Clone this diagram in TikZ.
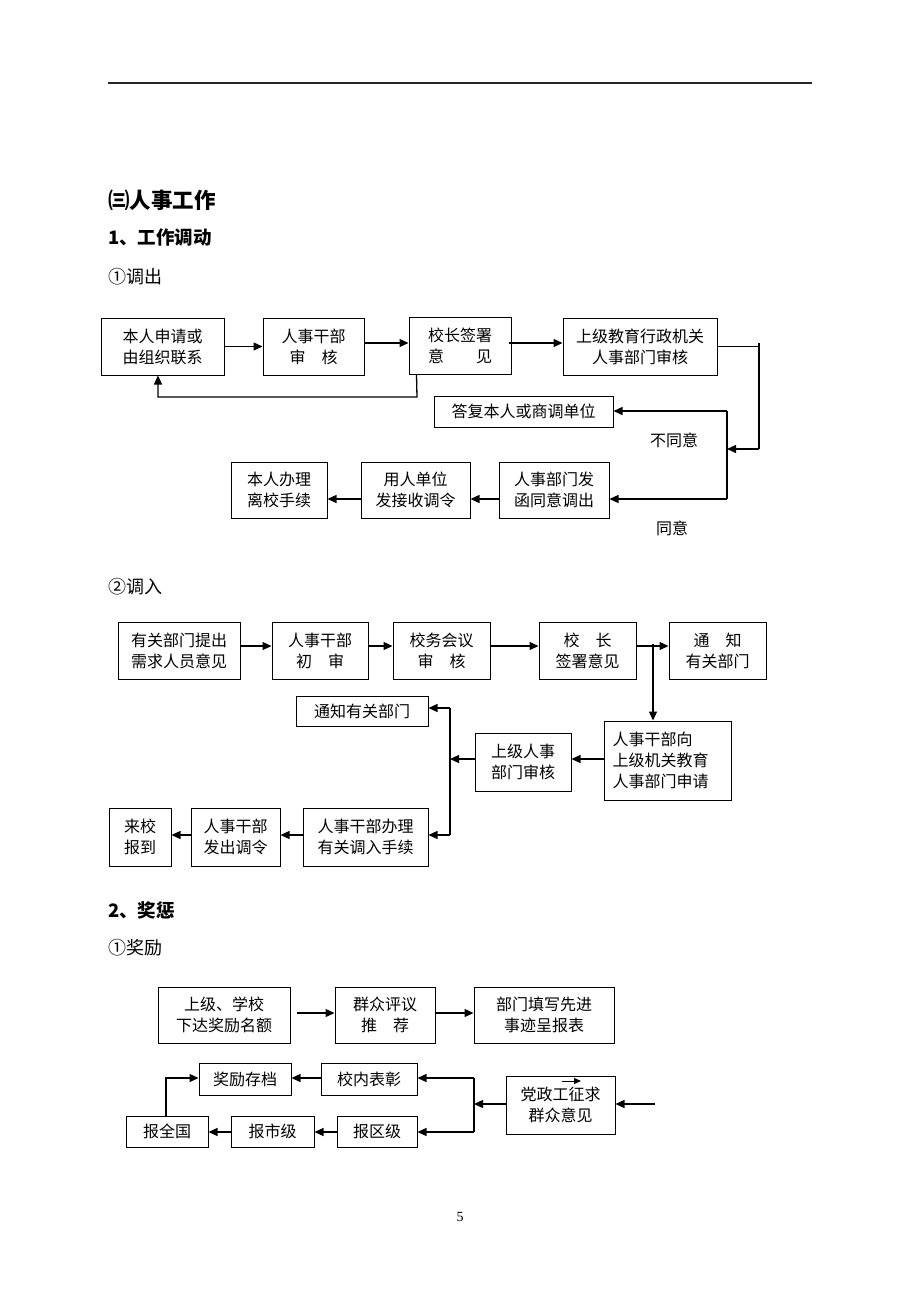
\documentclass[tikz,border=0pt]{standalone}
\usepackage{fontspec}
\setmainfont{Liberation Serif}
\newfontfamily\cjk{Noto Sans CJK SC}
\usetikzlibrary{arrows.meta}
\tikzset{
  box/.style={draw, line width=1pt, inner sep=0pt, align=center,
    font=\cjk\fontsize{16}{21}\selectfont},
  arr/.style={line width=1.3pt, -{Triangle[length=9pt,width=8pt]}},
  ln/.style={line width=1.3pt},
  lbl/.style={inner sep=0pt, font=\cjk\fontsize{16}{21}\selectfont},
  h1/.style={inner sep=0pt, anchor=west, font=\cjk\bfseries\fontsize{21.5}{24}\selectfont},
  h2/.style={inner sep=0pt, anchor=west, font=\cjk\bfseries\fontsize{18.5}{22}\selectfont},
  h3/.style={inner sep=0pt, anchor=west, font=\cjk\fontsize{18}{22}\selectfont}
}
\newcommand\bx[6]{\node[box, minimum width=#4pt-#2pt, minimum height=#5pt-#3pt] (#1) at ({(#2+#4)/2},{(#3+#5)/2}) {#6};}
\begin{document}
\begin{tikzpicture}[x=1pt,y=-1pt]
\path[use as bounding box, fill=white] (0,0) rectangle (920,1302);
% header rule
\coordinate (hl) at (108,83); \coordinate (hr) at (812,83);
\draw[line width=1.6pt, black!85] (hl) -- (hr);
% headings
\node[h1] (t1) at (108,200) {㈢人事工作};
\node[h2] (t2) at (108,238) {1、工作调动};
\node[h3] (t3) at (108,277) {①调出};
\node[h3] (t4) at (108,587) {②调入};
\node[h2] (t5) at (108,910) {2、奖惩};
\node[h3] (t6) at (108,948) {①奖励};
\node[inner sep=0pt, font=\fontsize{14}{16}\selectfont] (pg) at (460,1217) {5};

% ---------- section 1 ----------
\bx{A1}{101}{318}{224}{375}{本人申请或\\由组织联系}
\bx{A2}{263}{318}{364}{375}{人事干部\\审　核}
\bx{A3}{409}{317}{511}{374}{校长签署\\意　　见}
\bx{A4}{563}{318}{717}{375}{上级教育行政机关\\人事部门审核}
\bx{B1}{434}{396}{613}{427}{答复本人或商调单位}
\bx{C3}{499}{462}{609}{518}{人事部门发\\函同意调出}
\bx{C2}{361}{462}{470}{518}{用人单位\\发接收调令}
\bx{C1}{231}{462}{327}{518}{本人办理\\离校手续}
\node[lbl] (nb) at (674,440) {不同意};
\node[lbl] (ty) at (672,528) {同意};

\draw[arr] (A1.east) -- (A2.west);
\draw[arr] (A2.east |- 0,343) -- (A3.west |- 0,343);
\draw[arr] ([xshift=-3]A3.east |- 0,343) -- (A4.west |- 0,343);
\draw[arr] ([xshift=8]A3.south west) -- (417,397) -- (158,397) -- (A1.south -| 158,0);
\coordinate (j1a) at (759,343); \coordinate (j1b) at (759,449);
\draw[ln] (A4.east) -- (A4.east -| j1a);
\draw[ln] (j1a) -- (j1b);
\coordinate (j2a) at (727,411); \coordinate (j2b) at (727,499);
\draw[arr] (j1b) -- (j1b -| j2a);
\draw[ln] (j2a) -- (j2b);
\draw[arr] (j2a) -- (B1.east |- j2a);
\draw[arr] (j2b) -- (C3.east |- j2b);
\draw[arr] (C3.west |- 0,499) -- (C2.east |- 0,499);
\draw[arr] (C2.west |- 0,499) -- (C1.east |- 0,499);

% ---------- section 2 ----------
\bx{D1}{118}{622}{240}{679}{有关部门提出\\需求人员意见}
\bx{D2}{272}{622}{368}{679}{人事干部\\初　审}
\bx{D3}{393}{622}{490}{679}{校务会议\\审　核}
\bx{D4}{539}{622}{636}{679}{校　长\\签署意见}
\bx{D5}{669}{622}{766}{679}{通　知\\有关部门}
\node[box, align=left, text width=110pt, minimum width=127pt, minimum height=79pt] (D6) at (667.5,760.5) {人事干部向\\上级机关教育\\人事部门申请};
\bx{D7}{475}{733}{571}{791}{上级人事\\部门审核}
\bx{E0}{296}{696}{428}{726}{通知有关部门}
\bx{E3}{303}{808}{428}{866}{人事干部办理\\有关调入手续}
\bx{E2}{191}{808}{280}{866}{人事干部\\发出调令}
\bx{E1}{109}{808}{171}{866}{来校\\报到}

\draw[arr] (D1.east |- 0,646) -- (D2.west |- 0,646);
\draw[arr] (D2.east |- 0,646) -- (D3.west |- 0,646);
\draw[arr] (D3.east |- 0,646) -- (D4.west |- 0,646);
\draw[arr] (D4.east |- 0,646) -- (D5.west |- 0,646);
\draw[arr] (653,644) -- (D6.north -| 653,0);
\draw[arr] (D6.west |- 0,759) -- (D7.east |- 0,759);
\coordinate (k1) at (450,708); \coordinate (k2) at (450,835);
\draw[ln] (k1) -- (k2);
\draw[arr] (D7.west |- 0,759) -- (450,759);
\draw[arr] (k1) -- (E0.east |- k1);
\draw[arr] (k2) -- (E3.east |- k2);
\draw[arr] (E3.west |- k2) -- (E2.east |- k2);
\draw[arr] (E2.west |- k2) -- (E1.east |- k2);

% ---------- section 3 ----------
\bx{F1}{158}{987}{290}{1043}{上级、学校\\下达奖励名额}
\bx{F2}{335}{987}{435}{1043}{群众评议\\推　荐}
\bx{F3}{474}{987}{614}{1043}{部门填写先进\\事迹呈报表}
\bx{G1}{199}{1063}{291}{1095}{奖励存档}
\bx{G2}{321}{1063}{417}{1095}{校内表彰}
\bx{H1}{126}{1116}{208}{1147}{报全国}
\bx{H2}{231}{1116}{314}{1147}{报市级}
\bx{H3}{337}{1116}{417}{1147}{报区级}
\bx{P}{506}{1076}{615}{1134}{党政工征求\\群众意见}

\draw[arr] (297,1013) -- (F2.west |- 0,1013);
\draw[arr] (F2.east |- 0,1013) -- (F3.west |- 0,1013);
\coordinate (m1) at (474,1078); \coordinate (m2) at (474,1132);
\draw[ln] (m1) -- (m2);
\draw[arr] (P.west |- 0,1104) -- (474,1104);
\draw[arr] (m1) -- (G2.east |- m1);
\draw[arr] (m2) -- (H3.east |- m2);
\draw[arr] (G2.west |- m1) -- (G1.east |- m1);
\draw[arr] (H3.west |- m2) -- (H2.east |- m2);
\draw[arr] (H2.west |- m2) -- (H1.east |- m2);
\draw[arr] (H1.north -| 166,0) -- (166,1078) -- (G1.west |- m1);
\coordinate (in) at (655,1104);
\draw[arr] (in) -- (P.east |- in);
\coordinate (sa) at (562,1081); \coordinate (sb) at (581,1081);
\draw[line width=1pt, -{Triangle[length=7pt,width=6pt]}] (sa) -- (sb);
\end{tikzpicture}
\end{document}
